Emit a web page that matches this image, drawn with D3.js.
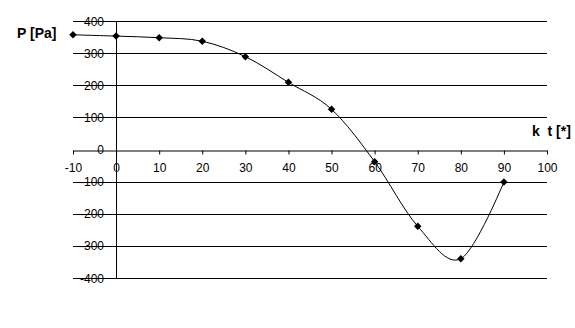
<!DOCTYPE html>
<html>
<head>
<meta charset="utf-8">
<script src="https://cdn.jsdelivr.net/npm/d3@7"></script>
<style>
  body { margin: 0; background: #fff; }
  text { font-family: "Liberation Sans", Arial, sans-serif; fill: #000; }
</style>
</head>
<body>
<div id="graph"></div>
<script>
var angles = [-10, 0, 10, 20, 30, 40, 50, 60, 70, 80, 90];
var pressure = [357, 353, 348, 337, 289, 209, 125, -38, -239, -340, -101];
var xTicks = [-10, 0, 10, 20, 30, 40, 50, 60, 70, 80, 90, 100];
var yTicks = [400, 300, 200, 100, 0, -100, -200, -300, -400];

function setup() {
  var size = {width: 575, height: 328};

  var svg = d3.select("#graph")
    .append("svg")
    .attr("width", size.width)
    .attr("height", size.height);

  var x = d3.scaleLinear().domain([-10, 100]).range([73, 547]);
  var y = d3.scaleLinear().domain([-400, 400]).range([278, 21]);

  // horizontal gridlines
  svg.append("g")
    .selectAll("line")
    .data(yTicks.filter(d => d !== 0))
    .enter()
    .append("line")
    .attr("x1", x(-10))
    .attr("x2", x(100))
    .attr("y1", d => Math.round(y(d)) + 0.5)
    .attr("y2", d => Math.round(y(d)) + 0.5)
    .attr("stroke", "#000")
    .attr("stroke-width", 1);

  // y axis line at x = 0
  svg.append("line")
    .attr("x1", Math.round(x(0)) + 0.5)
    .attr("x2", Math.round(x(0)) + 0.5)
    .attr("y1", y(400))
    .attr("y2", y(-400))
    .attr("stroke", "#000");

  // y labels
  svg.append("g")
    .selectAll("text")
    .data(yTicks)
    .enter()
    .append("text")
    .attr("x", 104)
    .attr("y", d => y(d) + 4.5)
    .attr("text-anchor", "end")
    .style("font-size", "12px")
    .text(d => d);

  // x axis at y = 0
  var xAxis = d3.axisBottom(x)
    .tickValues(xTicks)
    .tickSize(4)
    .tickSizeOuter(0)
    .tickFormat(d => d);

  var gx = svg.append("g")
    .attr("transform", "translate(0," + (Math.round(y(0)) + 0.5) + ")")
    .call(xAxis);
  gx.select(".domain").attr("stroke", "#000");
  gx.selectAll(".tick line").attr("stroke", "#000");
  gx.selectAll(".tick text")
    .attr("y", 13)
    .attr("dy", "0.71em")
    .style("font-family", '"Liberation Sans", Arial, sans-serif')
    .style("font-size", "12px")
    .attr("fill", "#000");

  // smoothed line
  var line = d3.line()
    .x((d, i) => x(angles[i]))
    .y(d => y(d))
    .curve(d3.curveCardinal.tension(0));

  svg.append("path")
    .datum(pressure)
    .attr("d", line)
    .attr("fill", "none")
    .attr("stroke", "#000")
    .attr("stroke-width", 1);

  // diamond markers (rotated squares)
  svg.append("g")
    .selectAll("path")
    .data(pressure)
    .enter()
    .append("path")
    .attr("transform", (d, i) => "translate(" + x(angles[i]) + "," + y(d) + ") rotate(45)")
    .attr("d", d3.symbol().type(d3.symbolSquare).size(28))
    .attr("fill", "#000");

  // axis titles
  svg.append("text")
    .attr("x", 17)
    .attr("y", 38)
    .style("font-size", "14px")
    .style("font-weight", "bold")
    .text("P [Pa]");

  svg.append("text")
    .attr("x", 532)
    .attr("y", 136)
    .style("font-size", "14px")
    .style("font-weight", "bold")
    .attr("xml:space", "preserve")
    .text("k  t [*]");
}

window.addEventListener('load', setup);
</script>
</body>
</html>
